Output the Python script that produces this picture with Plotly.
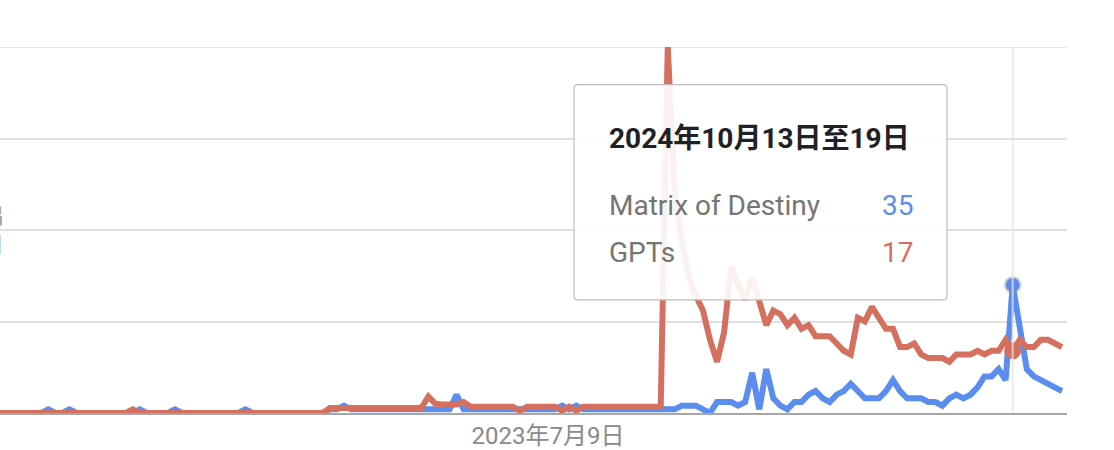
import pandas as pd
import plotly.graph_objects as go

# ---- data (weekly, Google Trends style, 0-100) ----
start_date = "2022-01-09"
tick_dates = ["2023-07-09"]
tick_labels = ["2023年7月9日"]
hover_date = "2024-10-13"
hover_title = "2024年10月13日至19日"
series_names = ["Matrix of Destiny", "GPTs"]
grid_values = [0, 25, 50, 75, 100]

matrix_of_destiny = (
    [0] * 7 + [1] + [0] * 2 + [1] + [0] * 9 + [1] + [0] * 4 + [1] + [0] * 9 + [1] + [0] * 11
    + [1, 1, 2] + [1] * 15 + [5] + [1] * 12 + [1, 1, 2, 1, 2] + [1] * 11
    + [1, 1, 1, 2, 2, 2, 1, 0, 3, 3, 3, 2, 3, 11, 1, 12, 4, 2, 1, 3, 3, 5, 6, 4, 3, 5, 6,
       8, 6, 4, 4, 4, 6, 9, 6, 4, 4, 4, 3, 3, 2, 4, 5, 4, 5, 7, 10, 10, 12, 9, 35, 23, 12,
       10, 9, 8, 7, 6]
)
gpts = (
    [0] * 19 + [1] + [0] * 27
    + [1.4] * 14 + [4.5, 2.5, 2.3, 2.3, 2.3, 3]
    + [1.7] * 7 + [0.6] + [1.7] * 5 + [0.6, 1.7, 0.6] + [1.7] * 12
    + [100, 60, 47, 37, 32, 28, 20, 14, 22, 40, 35, 31, 37, 30, 24, 28, 27, 24, 26, 23, 24,
       21, 21, 21, 19, 17, 16, 26, 25, 29, 26, 23, 23, 18, 18, 19, 16, 15, 15, 15, 14, 16,
       16, 16, 17, 16, 17, 17, 20, 17, 20, 18, 18, 20, 20, 19, 18]
)

dates = pd.date_range(start_date, periods=len(gpts), freq="7D")
hidx = list(dates).index(pd.Timestamp(hover_date))

BLUE = "#5b8def"
RED = "#d5705f"
FONT = "Roboto, 'Noto Sans CJK SC', sans-serif"

fig = go.Figure()
fig.add_trace(go.Scatter(x=dates, y=matrix_of_destiny, mode="lines", name=series_names[0],
                         line=dict(color=BLUE, width=6), hoverinfo="skip"))
fig.add_trace(go.Scatter(x=dates, y=gpts, mode="lines", name=series_names[1],
                         line=dict(color=RED, width=6), hoverinfo="skip"))
# hover markers
fig.add_trace(go.Scatter(x=[dates[hidx]], y=[matrix_of_destiny[hidx]], mode="markers",
                         marker=dict(color=BLUE, size=14,
                                     line=dict(color="rgba(120,135,170,0.35)", width=4)),
                         hoverinfo="skip"))
fig.add_trace(go.Scatter(x=[dates[hidx]], y=[gpts[hidx]], mode="markers",
                         marker=dict(color=RED, size=17, line=dict(width=0)),
                         hoverinfo="skip"))

W, H = 1114, 450
L, R, T, B = 0, 47, 47, 34
pw, ph = W - L - R, H - T - B


def px(x):
    return x / pw


def py(y):
    return (H - B - y) / ph


# tooltip box (rounded)
x0, x1, y0, y1 = px(574), px(947), py(302), py(85)
rx, ry = 4 / pw, 4 / ph
path = (f"M {x0+rx},{y1} L {x1-rx},{y1} Q {x1},{y1} {x1},{y1-ry} "
        f"L {x1},{y0+ry} Q {x1},{y0} {x1-rx},{y0} L {x0+rx},{y0} "
        f"Q {x0},{y0} {x0},{y0+ry} L {x0},{y1-ry} Q {x0},{y1} {x0+rx},{y1} Z")

shapes = [
    dict(type="line", xref="paper", yref="y", x0=0, x1=1, y0=grid_values[-1], y1=grid_values[-1],
         line=dict(color="#e0e0e0", width=1.5), layer="below"),
    dict(type="line", xref="x", yref="y", x0=dates[hidx], x1=dates[hidx], y0=0, y1=100,
         line=dict(color="rgba(228,228,228,0.75)", width=2), layer="above"),
    dict(type="path", xref="paper", yref="paper", path=path,
         fillcolor="rgba(255,255,255,0.9)", line=dict(color="#bdbdbd", width=1.2),
         layer="above"),
]

annotations = [
    dict(xref="paper", yref="paper", x=px(607), y=py(139), xanchor="left", yanchor="middle",
         text=f"<b>{hover_title}</b>", showarrow=False,
         font=dict(family=FONT, size=28, color="#202124")),
    dict(xref="paper", yref="paper", x=px(607), y=py(207), xanchor="left", yanchor="middle",
         text=series_names[0], showarrow=False,
         font=dict(family=FONT, size=28, color="#757575")),
    dict(xref="paper", yref="paper", x=px(607), y=py(254), xanchor="left", yanchor="middle",
         text=series_names[1], showarrow=False,
         font=dict(family=FONT, size=28, color="#757575")),
    dict(xref="paper", yref="paper", x=px(915), y=py(207), xanchor="right", yanchor="middle",
         text=f"{matrix_of_destiny[hidx]}", showarrow=False,
         font=dict(family=FONT, size=28, color=BLUE)),
    dict(xref="paper", yref="paper", x=px(915), y=py(254), xanchor="right", yanchor="middle",
         text=f"{gpts[hidx]}", showarrow=False,
         font=dict(family=FONT, size=28, color=RED)),
    # partially visible labels at the left edge (cut off in the original too)
    dict(xref="paper", yref="paper", x=px(6), y=py(217), xanchor="right", yanchor="middle",
         text="出", showarrow=False, font=dict(family=FONT, size=22, color="#9e9e9e")),
    dict(xref="paper", yref="paper", x=px(6), y=py(246), xanchor="right", yanchor="middle",
         text="日", showarrow=False, font=dict(family=FONT, size=22, color="#9e9e9e")),
]

fig.update_layout(
    width=W, height=H,
    margin=dict(l=L, r=R, t=T, b=B),
    paper_bgcolor="white", plot_bgcolor="white",
    showlegend=False,
    shapes=shapes, annotations=annotations,
    font=dict(family=FONT),
    xaxis=dict(type="date", range=["2022-01-10", "2024-12-06"],
               tickvals=tick_dates, ticktext=tick_labels, ticks="",
               showgrid=False, zeroline=False,
               showline=True, linecolor="#a6a6a6", linewidth=2,
               tickfont=dict(family=FONT, size=24, color="#8a8a8a")),
    yaxis=dict(range=[0, 100], tickvals=grid_values, showticklabels=False,
               gridcolor="#e0e0e0", gridwidth=1.5, zeroline=False, showline=False),
)

fig.write_html("out.html")
